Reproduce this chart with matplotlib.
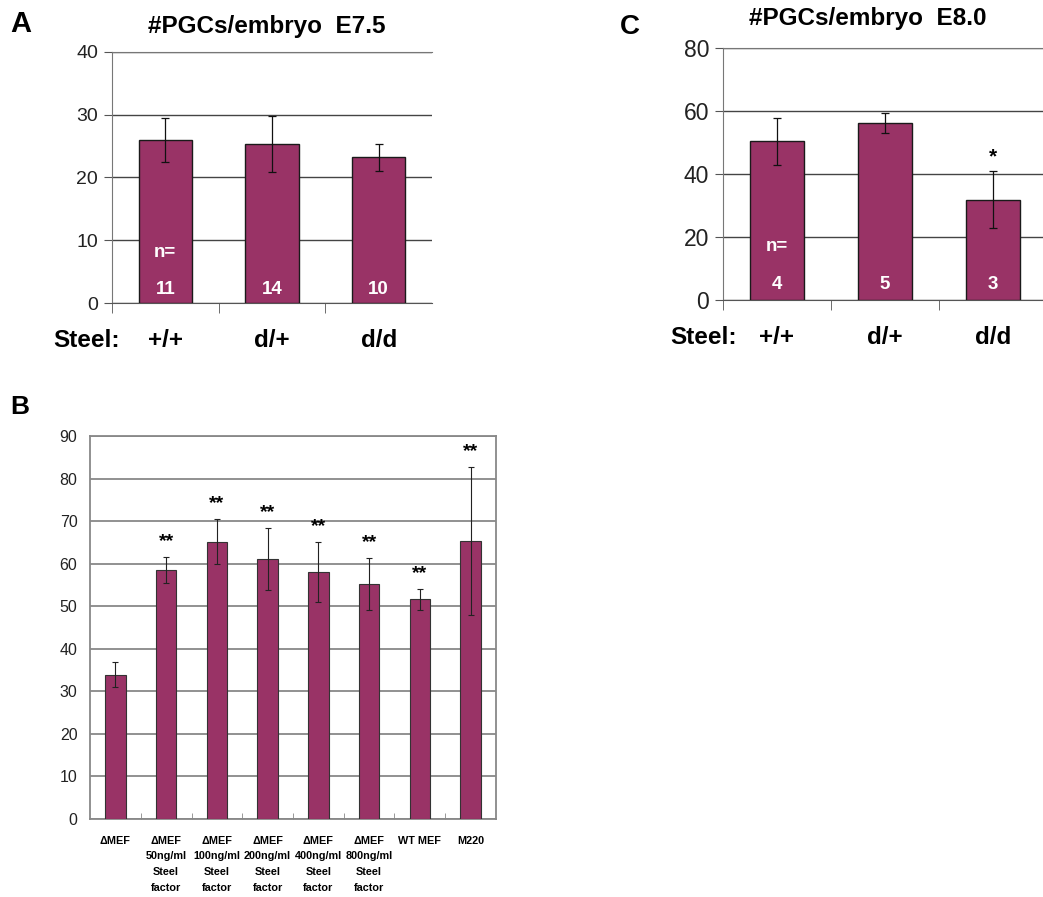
import matplotlib
matplotlib.use("Agg")
import matplotlib.pyplot as plt
import numpy as np

plt.rcParams['font.family'] = ['Liberation Sans', 'DejaVu Sans']

# panel A: E7.5
a_labels = ['+/+', 'd/+', 'd/d']
a_means = [26.0, 25.3, 23.2]
a_err = [3.5, 4.5, 2.2]
a_n = ['11', '14', '10']

# panel C: E8.0
c_labels = ['+/+', 'd/+', 'd/d']
c_means = [50.4, 56.1, 31.9]
c_err = [7.5, 3.2, 9.0]
c_n = ['4', '5', '3']
c_stars = ['', '', '*']

# panel B: culture conditions
b_labels = ['\u0394MEF', '\u0394MEF\n50ng/ml\nSteel\nfactor', '\u0394MEF\n100ng/ml\nSteel\nfactor',
            '\u0394MEF\n200ng/ml\nSteel\nfactor', '\u0394MEF\n400ng/ml\nSteel\nfactor',
            '\u0394MEF\n800ng/ml\nSteel\nfactor', 'WT MEF', 'M220']
b_means = [33.9, 58.5, 65.2, 61.0, 58.0, 55.2, 51.6, 65.3]
b_err = [2.9, 3.0, 5.3, 7.3, 7.0, 6.1, 2.5, 17.4]
b_stars = ['', '**', '**', '**', '**', '**', '**', '**']

bar_color = '#993366'
W, H = 1043, 897
fig = plt.figure(figsize=(W / 100, H / 100), dpi=100)


def px_axes(left, top, right, bottom):
    return fig.add_axes([left / W, 1 - bottom / H, (right - left) / W, (bottom - top) / H])


def embryo_panel(ax, labels, means, err, ns, ymax, step, tick_size, grid_color, n_y, num_y):
    x = np.arange(len(means))
    ax.bar(x, means, width=0.5, color=bar_color, edgecolor='#1a1a1a', linewidth=1.0, zorder=3)
    ax.errorbar(x, means, yerr=err, fmt='none', ecolor='#111111', elinewidth=0.9,
                capsize=3, capthick=0.9, zorder=4)
    ax.set_xlim(-0.5, len(means) - 0.5)
    ax.set_ylim(0, ymax)
    ax.set_yticks(np.arange(0, ymax + 1, step))
    ax.yaxis.grid(True, color=grid_color, linewidth=1.0, zorder=0)
    ax.set_axisbelow(True)
    ax.spines['right'].set_visible(False)
    ax.spines['top'].set_color('#777777')
    ax.spines['left'].set_color('#777777')
    ax.spines['bottom'].set_color('#555555')
    ax.tick_params(axis='y', direction='out', length=6, color='#555555',
                   labelsize=tick_size, labelcolor='#222222', pad=4)
    ax.set_xticks([])
    ax.set_xticks(np.arange(0, len(means)) - 0.5, minor=True)
    ax.tick_params(axis='x', which='minor', direction='out', length=7, color='#555555')
    ax.text(0, n_y, 'n=', color='white', fontsize=13.5, fontweight='bold', ha='center', va='center', zorder=5)
    for xi, n in zip(x, ns):
        ax.text(xi, num_y, n, color='white', fontsize=13.5, fontweight='bold', ha='center', va='center', zorder=5)
    for xi, lab in zip(x, labels):
        ax.text(xi, -0.15, lab, transform=ax.get_xaxis_transform(), fontsize=17.5,
                fontweight='bold', ha='center', va='center')


# panel A
axA = px_axes(112, 52, 432, 303)
embryo_panel(axA, a_labels, a_means, a_err, a_n, 40, 10, 14, '#444444', 8.1, 2.2)
axA.text(-0.43, -0.15, 'Steel:', transform=axA.get_xaxis_transform(), fontsize=17.5,
         fontweight='bold', ha='right', va='center')
fig.text(267 / W, 1 - 26 / H, '#PGCs/embryo  E7.5', fontsize=17.5, fontweight='bold', ha='center', va='center')
fig.text(10 / W, 1 - 24 / H, 'A', fontsize=21, fontweight='bold', ha='left', va='center')

# panel C
axC = px_axes(723, 48, 1047, 300)
embryo_panel(axC, c_labels, c_means, c_err, c_n, 80, 20, 16.5, '#444444', 17, 5.0)
for xi, m, e, s in zip(range(3), c_means, c_err, c_stars):
    if s:
        axC.text(xi, m + e + 4.5, s, fontsize=15, fontweight='bold', ha='center', va='center')
axC.text(-0.37, -0.148, 'Steel:', transform=axC.get_xaxis_transform(), fontsize=17.5,
         fontweight='bold', ha='right', va='center')
fig.text(868 / W, 1 - 19 / H, '#PGCs/embryo  E8.0', fontsize=17.5, fontweight='bold', ha='center', va='center')
fig.text(620 / W, 1 - 27 / H, 'C', fontsize=20, fontweight='bold', ha='left', va='center')

# panel B
axB = px_axes(90, 436, 496, 819)
xb = np.arange(len(b_means))
axB.bar(xb, b_means, width=0.4, color=bar_color, edgecolor='#333333', linewidth=0.8, zorder=3)
axB.errorbar(xb, b_means, yerr=b_err, fmt='none', ecolor='#222222', elinewidth=0.8,
             capsize=2.5, capthick=0.8, zorder=4)
for xi, m, e, s in zip(xb, b_means, b_err, b_stars):
    if s:
        axB.text(xi, m + e + 3.6, s, fontsize=14, fontweight='bold', ha='center', va='center')
axB.set_xlim(-0.5, len(b_means) - 0.5)
axB.set_ylim(0, 90)
axB.set_yticks(np.arange(0, 91, 10))
axB.yaxis.grid(True, color='#888888', linewidth=1.3, zorder=0)
axB.set_axisbelow(True)
for s in axB.spines.values():
    s.set_color('#888888')
    s.set_linewidth(1.3)
axB.tick_params(axis='y', length=0, pad=9, labelsize=11.5, labelcolor='#222222')
axB.set_xticks(xb)
axB.set_xticklabels(b_labels, fontsize=7.8, fontweight='bold', linespacing=1.72, va='top')
axB.tick_params(axis='x', which='major', length=0, pad=12)
axB.set_xticks(xb[1:] - 0.5, minor=True)
axB.tick_params(axis='x', which='minor', direction='in', length=4, color='#888888')
fig.text(10 / W, 1 - 407 / H, 'B', fontsize=19, fontweight='bold', ha='left', va='center')

fig.savefig('out.png', dpi=100)
